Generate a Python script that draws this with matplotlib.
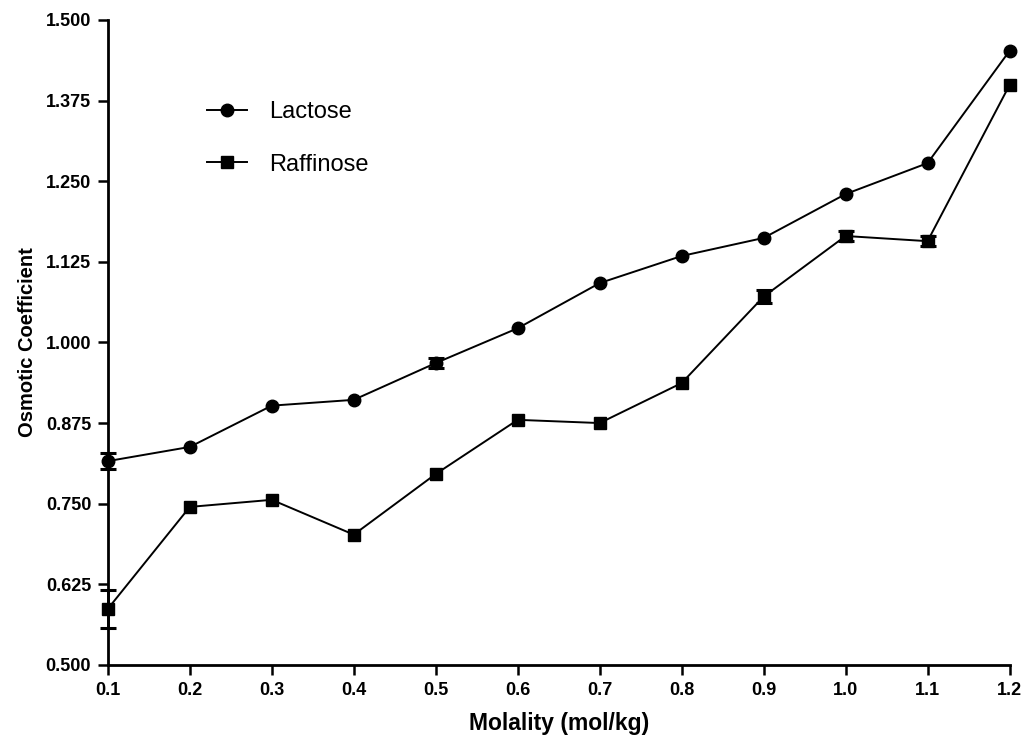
import numpy as np
import matplotlib
matplotlib.use("Agg")
import matplotlib.pyplot as plt

plt.rcParams['font.family'] = ['Liberation Sans', 'DejaVu Sans']

# Data
molality = [0.1, 0.2, 0.3, 0.4, 0.5, 0.6, 0.7, 0.8, 0.9, 1.0, 1.1, 1.2]
lactose = [0.816, 0.838, 0.902, 0.911, 0.968, 1.022, 1.092, 1.134, 1.162, 1.230, 1.278, 1.452]
lactose_err = [0.012, 0, 0, 0, 0.008, 0, 0, 0, 0, 0, 0, 0]
raffinose = [0.587, 0.745, 0.756, 0.702, 0.796, 0.880, 0.875, 0.937, 1.071, 1.165, 1.157, 1.399]
raffinose_err = [0.029, 0, 0, 0, 0, 0, 0, 0, 0.010, 0.008, 0.008, 0]

xticks = [0.1, 0.2, 0.3, 0.4, 0.5, 0.6, 0.7, 0.8, 0.9, 1.0, 1.1, 1.2]
yticks = [0.5, 0.625, 0.75, 0.875, 1.0, 1.125, 1.25, 1.375, 1.5]

fig = plt.figure(figsize=(10.27, 7.38), dpi=100)
ax = fig.add_axes([0.105, 0.099, 0.878, 0.874])

ax.plot(molality, lactose, color='black', marker='o', markersize=9,
        linewidth=1.4, label='Lactose', clip_on=False, zorder=3)
ax.plot(molality, raffinose, color='black', marker='s', markersize=8.5,
        linewidth=1.4, label='Raffinose', clip_on=False, zorder=3)

# error bars only where the reference shows them
for ys, errs in [(lactose, lactose_err), (raffinose, raffinose_err)]:
    xs = [x for x, e in zip(molality, errs) if e > 0]
    yv = [y for y, e in zip(ys, errs) if e > 0]
    ev = [e for e in errs if e > 0]
    ax.errorbar(xs, yv, yerr=ev, fmt='none', ecolor='black', capsize=6,
                elinewidth=2, capthick=2.2, clip_on=False, zorder=4)

ax.set_xlim(0.1, 1.2)
ax.set_ylim(0.5, 1.5)
ax.set_xticks(xticks)
ax.set_xticklabels([f"{v:.1f}" for v in xticks])
ax.set_yticks(yticks)
ax.set_yticklabels([f"{v:.3f}" for v in yticks])

for side in ['top', 'right']:
    ax.spines[side].set_visible(False)
for side in ['left', 'bottom']:
    ax.spines[side].set_linewidth(2)

ax.tick_params(direction='out', length=7, width=1.8, labelsize=13, pad=5)
for lbl in ax.get_xticklabels() + ax.get_yticklabels():
    lbl.set_fontweight('bold')

ax.set_xlabel('Molality (mol/kg)', fontsize=16.5, fontweight='bold', labelpad=10)
ax.set_ylabel('Osmotic Coefficient', fontsize=14.5, fontweight='bold', labelpad=6)

ax.legend(loc='upper left', bbox_to_anchor=(0.0993, 0.889),
          frameon=False, fontsize=17, handlelength=1.7, handletextpad=0.93,
          labelspacing=1.3, borderaxespad=0)

fig.savefig('out.png', dpi=100)
